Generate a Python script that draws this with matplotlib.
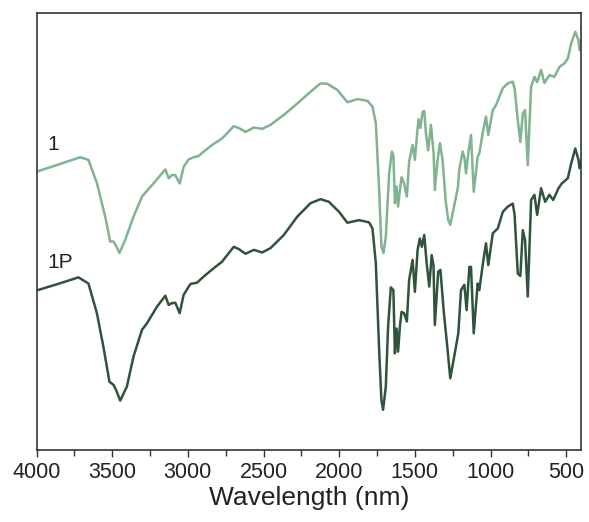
import matplotlib
matplotlib.use("Agg")
import matplotlib.pyplot as plt
from matplotlib.ticker import MultipleLocator

# wavenumber-like x values and relative transmittance (arbitrary units)
x_1 = [4000, 3858, 3712, 3657, 3601, 3546, 3513, 3491, 3474, 3452, 3414, 3359, 3303, 3281,
       3227, 3149, 3127, 3105, 3083, 3054, 3028, 2995, 2962, 2928, 2895, 2840, 2774, 2740,
       2697, 2664, 2619, 2564, 2509, 2454, 2366, 2277, 2189, 2123, 2078, 2012, 1946, 1879,
       1813, 1780, 1758, 1736, 1721, 1707, 1692, 1670, 1652, 1642, 1632, 1621, 1611, 1599,
       1588, 1571, 1553, 1538, 1515, 1500, 1487, 1476, 1464, 1449, 1438, 1427, 1412, 1394,
       1376, 1368, 1350, 1334, 1317, 1295, 1279, 1266, 1250, 1228, 1215, 1207, 1184, 1172,
       1162, 1147, 1129, 1111, 1085, 1074, 1052, 1030, 1015, 985, 964, 919, 886, 853, 841,
       820, 803, 787, 772, 754, 732, 710, 692, 666, 644, 611, 578, 544, 511, 489, 467, 440,
       419, 412, 398]
y_1 = [63.7, 65.3, 67.0, 66.4, 61.1, 53.4, 47.7, 47.7, 46.7, 45.1, 48.1, 53.4, 58.0, 58.9,
       61.0, 64.2, 62.2, 62.9, 62.9, 61.0, 64.8, 66.5, 67.0, 67.3, 68.3, 69.8, 71.3, 72.5,
       74.1, 73.7, 72.8, 73.8, 73.5, 74.4, 76.7, 79.3, 82.0, 83.9, 83.8, 82.4, 79.6, 80.3,
       79.9, 78.6, 74.8, 59.5, 46.5, 45.1, 48.8, 63.3, 68.3, 67.5, 56.5, 60.3, 55.7, 59.5,
       62.4, 61.0, 58.0, 66.0, 69.8, 66.4, 71.7, 75.7, 73.7, 77.4, 77.6, 72.5, 68.6, 74.4,
       67.9, 59.5, 66.4, 70.2, 66.4, 56.5, 52.6, 51.5, 54.2, 58.0, 60.3, 64.1, 68.3, 66.8,
       63.3, 67.9, 72.1, 59.1, 67.1, 67.9, 72.5, 76.3, 72.1, 77.8, 78.9, 82.8, 83.9, 84.3, 82.8,
       75.5, 70.5, 77.0, 77.8, 65.2, 83.1, 85.4, 84.2, 87.0, 84.0, 85.8, 85.4, 87.7, 88.5, 89.6,
       93.1, 95.7, 93.8, 91.5, 93.8]

x_1p = [4000, 3858, 3723, 3657, 3601, 3558, 3518, 3491, 3474, 3447, 3403, 3359, 3303, 3270,
        3204, 3149, 3127, 3105, 3083, 3054, 3028, 2983, 2939, 2895, 2829, 2774, 2740, 2697,
        2664, 2619, 2564, 2509, 2454, 2366, 2277, 2189, 2123, 2068, 2001, 1946, 1869, 1803,
        1780, 1758, 1736, 1721, 1710, 1692, 1677, 1659, 1642, 1632, 1621, 1611, 1599, 1588,
        1571, 1553, 1538, 1515, 1500, 1482, 1467, 1454, 1438, 1422, 1405, 1389, 1377, 1368,
        1346, 1331, 1310, 1288, 1266, 1240, 1213, 1195, 1173, 1158, 1140, 1129, 1111, 1085,
        1074, 1052, 1030, 1015, 985, 952, 919, 886, 853, 841, 820, 803, 787, 772, 754, 732,
        710, 692, 666, 639, 611, 586, 551, 529, 489, 467, 440, 419, 412, 398]
y_1p = [36.5, 38.0, 39.5, 38.1, 31.3, 23.6, 15.6, 14.9, 13.7, 11.3, 14.5, 21.4, 27.5, 29.0,
        32.8, 35.3, 33.2, 33.6, 33.7, 31.3, 35.5, 38.0, 38.3, 39.7, 41.6, 43.1, 44.6, 46.5,
        46.0, 44.9, 45.8, 45.2, 46.2, 49.2, 53.4, 56.5, 57.4, 56.8, 54.5, 52.0, 52.6, 52.1,
        50.7, 42.7, 22.9, 11.4, 9.2, 14.5, 28.2, 37.2, 36.6, 22.1, 27.8, 22.5, 28.2, 31.6,
        31.3, 29.4, 38.9, 43.5, 36.2, 45.8, 48.4, 46.5, 49.2, 42.7, 37.4, 44.6, 42.3, 28.6,
        40.8, 41.2, 32.0, 24.4, 16.4, 21.4, 26.7, 36.6, 37.8, 32.0, 41.9, 41.9, 26.7, 38.1,
        36.6, 42.3, 47.3, 42.3, 49.6, 50.7, 54.5, 55.7, 56.4, 53.8, 40.4, 39.8, 50.3, 48.1,
        35.1, 57.2, 58.4, 53.8, 59.9, 56.8, 58.4, 57.2, 59.9, 61.0, 62.2, 65.6, 69.0, 66.4,
        64.5, 66.4]

labels = ["1", "1P"]
xticks = [4000, 3500, 3000, 2500, 2000, 1500, 1000, 500]
xlabel = "Wavelength (nm)"

plt.rcParams['font.family'] = ['Liberation Sans', 'DejaVu Sans']

fig = plt.figure(figsize=(5.89, 5.22), dpi=100)
ax = fig.add_axes([0.062, 0.138, 0.925, 0.837])

c_light = "#80b38f"
c_dark = "#2f5439"
ax.plot(x_1, y_1, color=c_light, lw=1.8, solid_joinstyle='round', solid_capstyle='round')
ax.plot(x_1p, y_1p, color=c_dark, lw=1.8, solid_joinstyle='round', solid_capstyle='round')

ax.set_xlim(4000, 400)
ax.set_ylim(0, 100)
ax.set_xticks(xticks)
ax.set_xticklabels([str(t) for t in xticks])
ax.xaxis.set_minor_locator(MultipleLocator(250))
ax.tick_params(axis='x', which='major', direction='out', length=5, width=1.0,
               labelsize=15.5, colors='#333333', labelcolor='#222222', pad=4)
ax.tick_params(axis='x', which='minor', direction='out', length=4, width=1.0, colors='#333333')
ax.set_yticks([])
for s in ax.spines.values():
    s.set_linewidth(1.2)
    s.set_color('#333333')

ax.set_xlabel(xlabel, fontsize=19, color='#222222', labelpad=2)

ax.text(3930, 67.8, labels[0], fontsize=15, color='#222222', ha='left', va='bottom')
ax.text(3930, 40.8, labels[1], fontsize=15, color='#222222', ha='left', va='bottom')

fig.savefig("out.png", dpi=100)
